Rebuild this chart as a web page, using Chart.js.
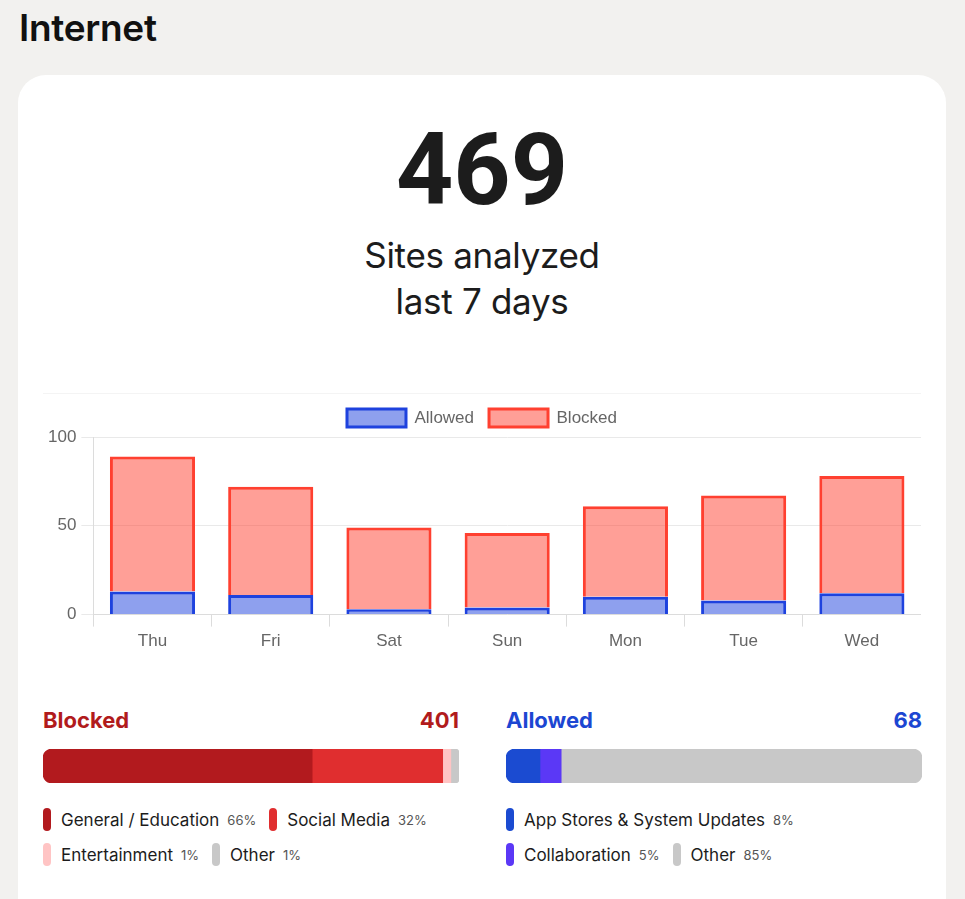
<!DOCTYPE html>
<html>
<head>
<meta charset="utf-8">
<script src="https://cdn.jsdelivr.net/npm/chart.js@4.4.0/dist/chart.umd.min.js"></script>
<style>
  body { margin: 0; width: 965px; height: 899px; overflow: hidden; background: #f2f1ef; font-family: 'Inter', sans-serif; color: #1a1a1a; position: relative; }
  .title { position: absolute; left: 19px; top: 7px; font-size: 37px; line-height: 42px; font-weight: 600; color: #111; letter-spacing: -0.3px; }
  .card { position: absolute; left: 18px; top: 75px; width: 928px; height: 900px; background: #fff; border-radius: 28px; }
  .big { position: absolute; left: 18px; width: 928px; top: 118px; text-align: center; font-family: 'Roboto', sans-serif; font-size: 100px; line-height: 104px; font-weight: 700; color: #1c1c1c; }
  .sub { position: absolute; left: 18px; width: 928px; top: 232px; text-align: center; font-size: 35px; line-height: 46px; font-weight: 400; color: #1c1c1c; letter-spacing: -0.3px; }
  .chart-box { position: absolute; left: 43px; top: 393px; width: 878px; height: 266px; border-top: 1px solid #f4f4f4; }
  .stat { position: absolute; top: 706px; width: 416px; }
  .stat .head { display: flex; justify-content: space-between; font-size: 22px; line-height: 28px; font-weight: 700; }
  .stat .bar { position: relative; margin-top: 15px; width: 416px; height: 34px; }
  .legend { display: flex; flex-wrap: wrap; margin-top: 19px; }
  .item { display: flex; align-items: center; height: 35px; margin-right: 13px; }
  .pill { width: 8px; height: 23px; border-radius: 4px; margin-right: 10px; }
  .name { font-size: 17px; color: #1c1c1c; }
  .pct { font-size: 13px; color: #555; margin-left: 8px; }
</style>
</head>
<body>
<div class="title">Internet</div>
<div class="card"></div>
<div class="big" id="total"></div>
<div class="sub">Sites analyzed<br>last 7 days</div>
<div class="chart-box"><canvas id="dailyChart"></canvas></div>

<div class="stat" style="left:43px">
  <div class="head" style="color:#b11b1c"><span>Blocked</span><span id="blockedTotal"></span></div>
  <div class="bar"><canvas id="blockedBar"></canvas></div>
  <div class="legend" id="blockedLegend"></div>
</div>
<div class="stat" style="left:506px">
  <div class="head" style="color:#1c46d2"><span>Allowed</span><span id="allowedTotal"></span></div>
  <div class="bar"><canvas id="allowedBar"></canvas></div>
  <div class="legend" id="allowedLegend"></div>
</div>

<script>
const days = ['Thu', 'Fri', 'Sat', 'Sun', 'Mon', 'Tue', 'Wed'];
const allowedSites = [13, 11, 3, 4, 10, 8, 12];
const blockedSites = [76, 61, 46, 42, 51, 59, 66];
const yTicks = [0, 50, 100];

const sitesAnalyzed = 469;
const blockedCount = 401;
const allowedCount = 68;

const blockedCategories = ['General / Education', 'Social Media', 'Entertainment', 'Other'];
const blockedPercents = [66, 32, 1, 1];
const blockedBarShares = [66, 32, 2, 2];

const allowedCategories = ['App Stores & System Updates', 'Collaboration', 'Other'];
const allowedPercents = [8, 5, 85];
const allowedBarShares = [8, 5, 85];

const blockedColors = ['#b21a1e', '#e02e2f', '#ffc4c4', '#c8c8c8'];
const allowedColors = ['#1b4bd1', '#5b38f6', '#c8c8c8'];

document.getElementById('total').textContent = sitesAnalyzed;
document.getElementById('blockedTotal').textContent = blockedCount;
document.getElementById('allowedTotal').textContent = allowedCount;

const tickFont = { family: "'Liberation Sans', Arial, sans-serif", size: 17 };

new Chart(document.getElementById('dailyChart'), {
  type: 'bar',
  data: {
    labels: days,
    datasets: [
      {
        label: 'Allowed',
        data: allowedSites,
        backgroundColor: 'rgba(30, 66, 222, 0.5)',
        borderColor: 'rgb(30, 66, 222)',
        borderWidth: 3,
      },
      {
        label: 'Blocked',
        data: blockedSites,
        backgroundColor: 'rgba(255, 64, 48, 0.5)',
        borderColor: 'rgb(255, 64, 48)',
        borderWidth: 3,
      },
    ],
  },
  options: {
    responsive: true,
    maintainAspectRatio: false,
    animation: false,
    layout: { padding: { left: 0, bottom: 3 } },
    plugins: {
      tooltip: { enabled: false },
      legend: {
        display: true,
        position: 'top',
        labels: {
          boxWidth: 59,
          boxHeight: 18,
          padding: 15,
          color: '#666',
          font: tickFont,
        },
      },
    },
    scales: {
      x: {
        stacked: true,
        grid: { offset: true, drawOnChartArea: false, tickLength: 12, color: '#dcdcdc' },
        border: { color: '#dcdcdc' },
        ticks: { color: '#666', font: tickFont, padding: 5 },
      },
      y: {
        stacked: true,
        min: 0,
        max: 100,
        afterBuildTicks: axis => { axis.ticks = yTicks.map(v => ({ value: v })); },
        grid: { color: '#e9e9e9', tickLength: 12 },
        border: { color: '#dcdcdc' },
        ticks: { color: '#666', font: tickFont, padding: 5 },
      },
    },
  },
});

function stackBar(id, categories, shares, colors) {
  const total = shares.reduce((a, b) => a + b, 0);
  const last = categories.length - 1;
  new Chart(document.getElementById(id), {
    type: 'bar',
    data: {
      labels: [''],
      datasets: categories.map((c, i) => ({
        label: c,
        data: [shares[i]],
        backgroundColor: colors[i],
        borderWidth: 0,
        borderSkipped: false,
        borderRadius: {
          topLeft: i === 0 ? 9 : 0,
          bottomLeft: i === 0 ? 9 : 0,
          topRight: i === last ? 9 : 0,
          bottomRight: i === last ? 9 : 0,
        },
        barPercentage: 1,
        categoryPercentage: 1,
      })),
    },
    options: {
      indexAxis: 'y',
      responsive: true,
      maintainAspectRatio: false,
      animation: false,
      layout: { padding: 0 },
      plugins: { legend: { display: false }, tooltip: { enabled: false } },
      scales: {
        x: { stacked: true, display: false, min: 0, max: total },
        y: { stacked: true, display: false },
      },
    },
  });
}

function legend(id, categories, percents, colors) {
  const box = document.getElementById(id);
  categories.forEach((c, i) => {
    const item = document.createElement('div');
    item.className = 'item';
    item.innerHTML = '<span class="pill" style="background:' + colors[i] + '"></span>' +
      '<span class="name">' + c.replace('&', '&amp;') + '</span>' +
      '<span class="pct">' + percents[i] + '%</span>';
    box.appendChild(item);
  });
}

stackBar('blockedBar', blockedCategories, blockedBarShares, blockedColors);
stackBar('allowedBar', allowedCategories, allowedBarShares, allowedColors);
legend('blockedLegend', blockedCategories, blockedPercents, blockedColors);
legend('allowedLegend', allowedCategories, allowedPercents, allowedColors);
</script>
</body>
</html>
